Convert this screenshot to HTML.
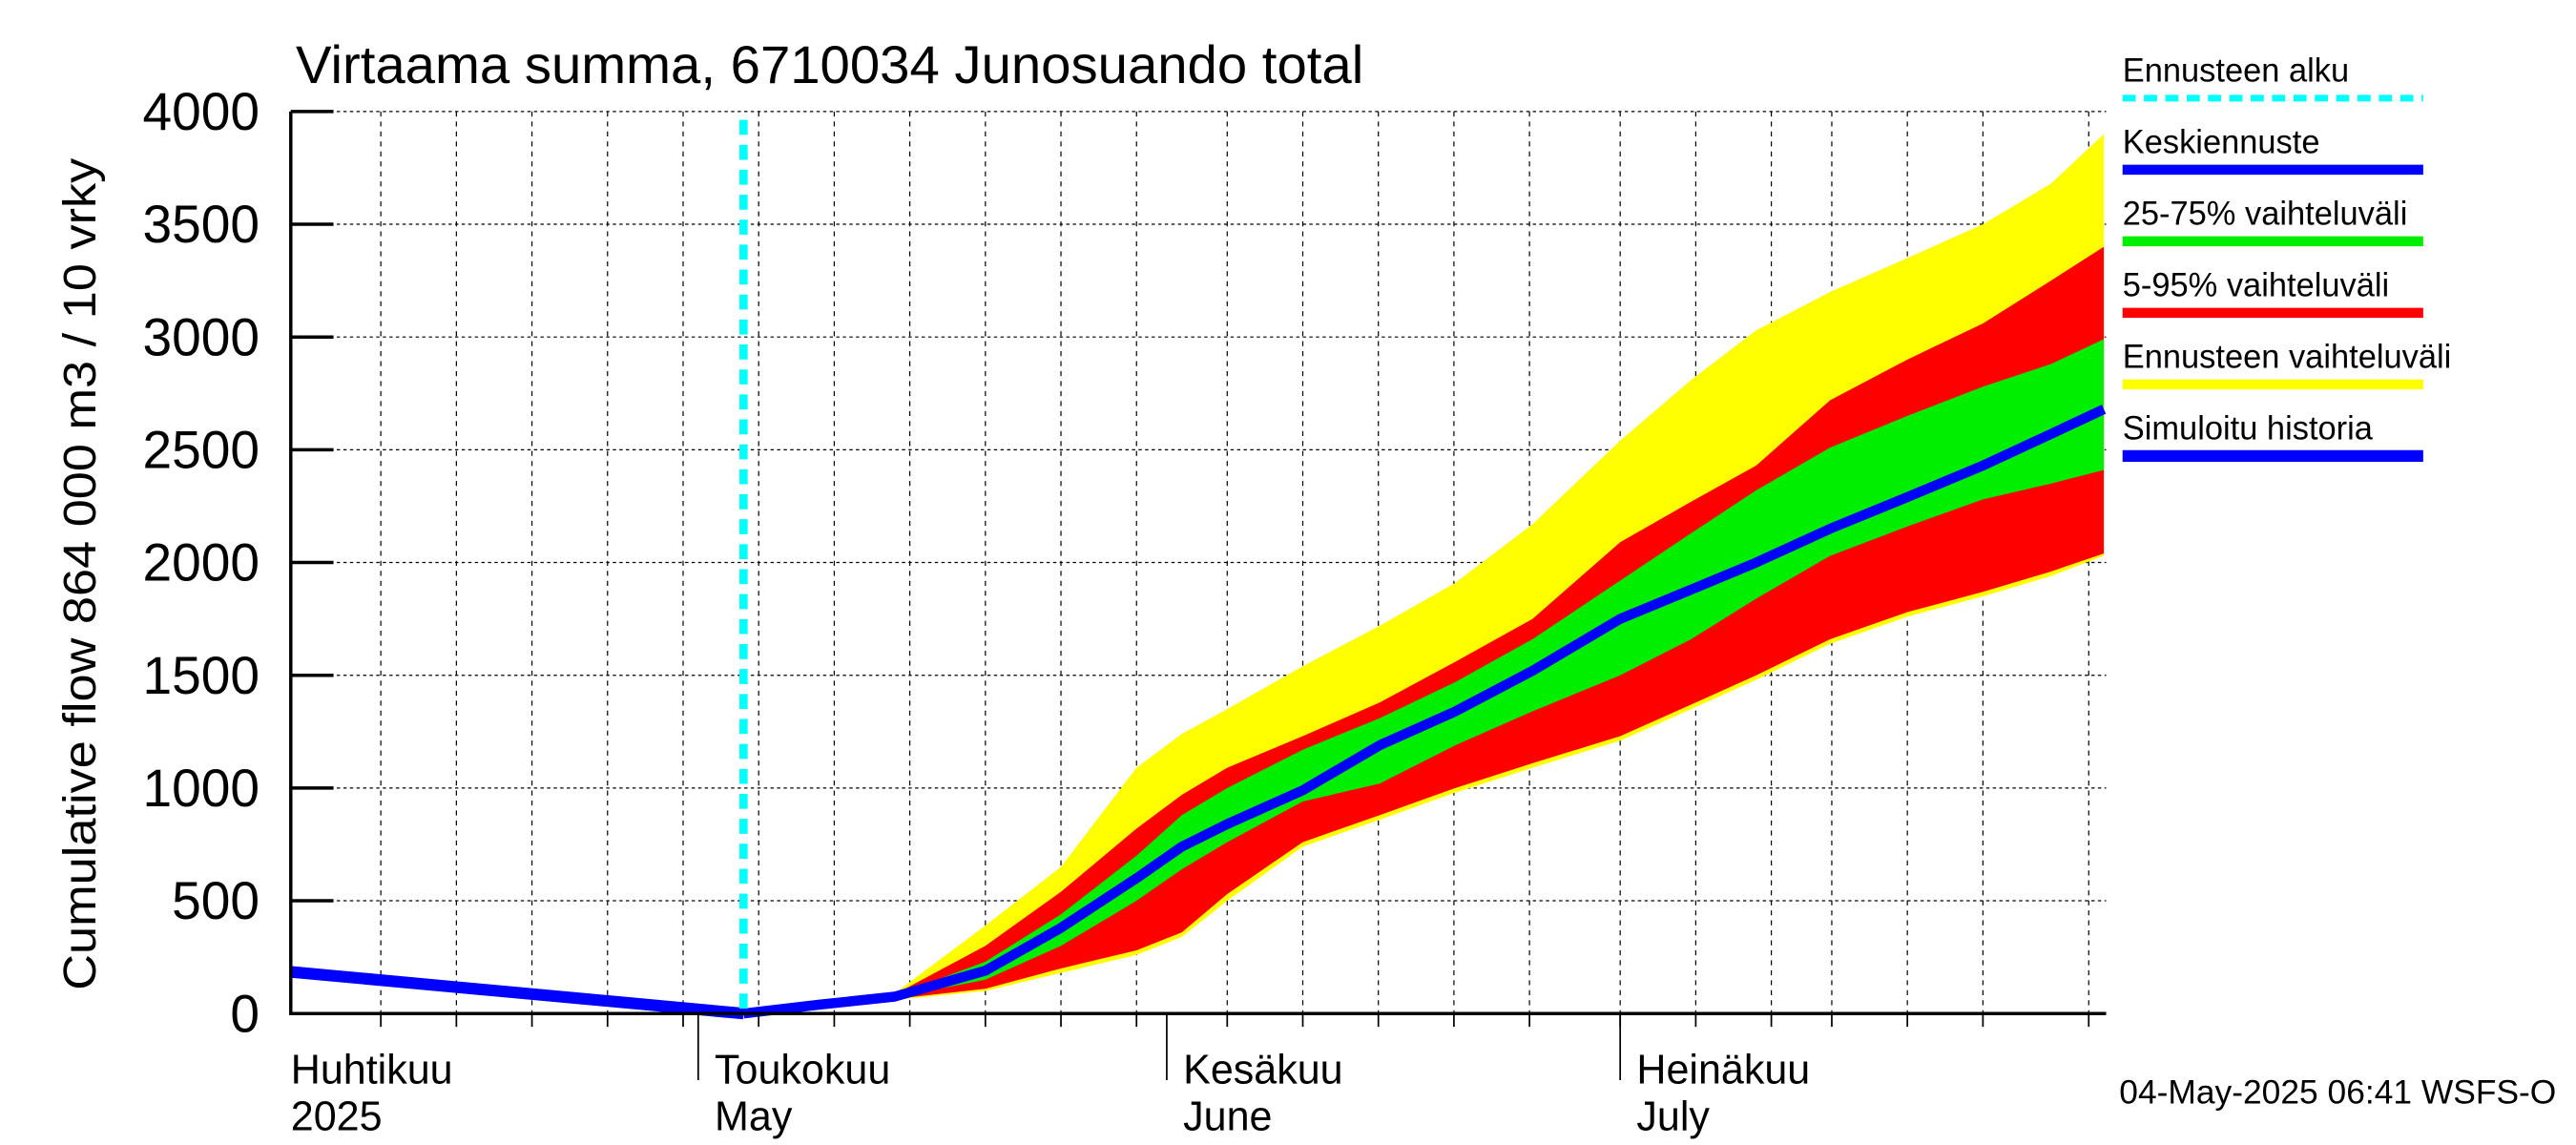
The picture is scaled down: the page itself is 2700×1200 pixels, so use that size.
<!DOCTYPE html>
<html><head><meta charset="utf-8"><style>
html,body{margin:0;padding:0;background:#fff;}
svg{display:block;font-family:"Liberation Sans",sans-serif;}
</style></head><body>
<svg id="chart" width="2700" height="1200" viewBox="0 0 1568 688" preserveAspectRatio="none" xmlns="http://www.w3.org/2000/svg">
<rect x="0" y="0" width="1568" height="688" fill="#fff"/>
<g id="grid"></g>
<g id="bands"></g>
<g id="lines"></g>
<g id="axes"></g>
<text x="180" y="50" font-size="32" textLength="650" lengthAdjust="spacingAndGlyphs">Virtaama summa, 6710034 Junosuando total</text>
<text transform="translate(58,345) rotate(-90)" text-anchor="middle" font-size="28" textLength="500" lengthAdjust="spacingAndGlyphs">Cumulative flow     864 000 m3 / 10 vrky</text>
<text x="1290" y="663" font-size="20" textLength="266" lengthAdjust="spacingAndGlyphs">04-May-2025 06:41 WSFS-O</text>
<g id="legend"></g>
</svg>
<script>
// data (x in days since 1 May 2025, values in 864 000 m3)
const yTicks = [0, 500, 1000, 1500, 2000, 2500, 3000, 3500, 4000];
const monthLabels = [["Huhtikuu","2025"],["Toukokuu","May"],["Kesäkuu","June"],["Heinäkuu","July"]];
const monthStartDays = [-30, 0, 31, 61];
const gridDays = [-21,-16,-11,-6,-1,4,9,14,19,24,29,35,40,45,50,55,61,66,71,75,80,85,92];
const histDays = [-27, 3];
const histVals = [185, 0];
const forecastStartDay = 3;
const fDays = [3, 8.1, 13, 19, 24, 29, 32, 35, 40, 45.1, 50.1, 55.2, 61, 65.7, 70, 74.9, 80, 85, 89.5, 93];
const yMax = [0, 40, 90, 390, 650, 1090, 1240, 1350, 1540, 1720, 1910, 2170, 2540, 2810, 3030, 3200, 3350, 3500, 3680, 3900];
const p95 = [0, 40, 85, 300, 540, 820, 970, 1090, 1230, 1380, 1560, 1750, 2090, 2270, 2430, 2720, 2900, 3060, 3250, 3400];
const p75 = [0, 40, 80, 230, 440, 700, 880, 1000, 1170, 1310, 1470, 1660, 1920, 2130, 2320, 2510, 2650, 2780, 2880, 2990];
const median = [0, 40, 75, 190, 380, 600, 740, 840, 990, 1190, 1340, 1520, 1750, 1880, 2000, 2150, 2290, 2430, 2570, 2680];
const p25 = [0, 40, 70, 150, 300, 500, 640, 760, 940, 1020, 1190, 1340, 1500, 1660, 1840, 2030, 2160, 2280, 2350, 2410];
const p05 = [0, 40, 65, 110, 200, 280, 360, 530, 760, 880, 1000, 1110, 1230, 1370, 1500, 1660, 1780, 1870, 1960, 2040];
const yMin = [0, 38, 60, 100, 180, 260, 340, 500, 740, 860, 980, 1090, 1210, 1350, 1480, 1640, 1760, 1850, 1940, 2030];
const legendLabels = ["Ennusteen alku","Keskiennuste","25-75% vaihteluväli","5-95% vaihteluväli","Ennusteen vaihteluväli","Simuloitu historia"];

const NS="http://www.w3.org/2000/svg";
const L=177,R=1282,T=67,B=609;
const x = d => 425 + d*9.2;
const y = v => B - (v/4000)*(B-T);
function mk(tag, attrs, parent){const e=document.createElementNS(NS,tag);for(const k in attrs)e.setAttribute(k,attrs[k]);parent.appendChild(e);return e;}
const grid=document.getElementById('grid'),bands=document.getElementById('bands'),lines=document.getElementById('lines'),axes=document.getElementById('axes'),legend=document.getElementById('legend');

yTicks.forEach(v=>{
  if(v>0){const g=mk('line',{x1:L,x2:R,y1:y(v),y2:y(v),stroke:'#000','stroke-width':0.7,'stroke-dasharray':'2,2'},grid);
  
  }
  const t=mk('line',{x1:L,x2:L+26,y1:y(v),y2:y(v),stroke:'#000','stroke-width':2},axes);
  
  
  const tx=mk('text',{x:158,y:y(v)+11,'text-anchor':'end','font-size':32},axes);
  tx.textContent=v;
  
  
});
gridDays.forEach(d=>{
  if(x(d)<=L||x(d)>R)return;
  const g=mk('line',{x1:x(d),x2:x(d),y1:T,y2:B,stroke:'#000','stroke-width':0.7,'stroke-dasharray':'3,3'},grid);
  
  
  const t=mk('line',{x1:x(d),x2:x(d),y1:B,y2:B+8,stroke:'#000','stroke-width':1},axes);
  
  
});
monthStartDays.forEach((d,i)=>{
  if(x(d)>L){const t=mk('line',{x1:x(d),x2:x(d),y1:B,y2:B+40,stroke:'#000','stroke-width':1},axes);
  
  }
  const lx=i===0?L:x(d)+10;
  const a=mk('text',{x:lx,y:651,'font-size':25},axes);a.textContent=monthLabels[i][0];
  
  
  const b=mk('text',{x:lx,y:679,'font-size':25},axes);b.textContent=monthLabels[i][1];
  
  
});
function band(lo,hi,color,name){
  let d='M'+fDays.map((dd,i)=>x(dd)+','+y(hi[i])).join('L');
  for(let i=fDays.length-1;i>=0;i--)d+='L'+x(fDays[i])+','+y(lo[i]);
  const p=mk('path',{d:d+'Z',fill:color},bands);
  
  
}
band(yMin,yMax,'#ffff00','forecast-range-band');
band(p05,p95,'#ff0000','p5-p95-band');
band(p25,p75,'#00ee00','p25-p75-band');
const hl=mk('polyline',{points:histDays.map((d,i)=>x(d)+','+y(histVals[i])).join(' '),fill:'none',stroke:'#0000ff','stroke-width':7},lines);


const ml=mk('polyline',{points:fDays.map((d,i)=>x(d)+','+y(median[i])).join(' '),fill:'none',stroke:'#0000ff','stroke-width':6,'stroke-linejoin':'round'},lines);


const fs=mk('line',{x1:x(forecastStartDay),x2:x(forecastStartDay),y1:T+5,y2:B,stroke:'#00ffff','stroke-width':5,'stroke-dasharray':'9,6'},lines);


const ax=mk('path',{d:`M${L},${T}L${L},${B}L${R},${B}`,fill:'none',stroke:'#000','stroke-width':2},axes);


const lcol=['#00ffff','#0000ff','#00ee00','#ff0000','#ffff00','#0000ff'];
legendLabels.forEach((s,i)=>{
  const ty=49+i*43;
  const t=mk('text',{x:1292,y:ty,'font-size':20},legend);t.textContent=s;
  
  
  const attrs={x1:1292,x2:1475,y1:ty+10,y2:ty+10,stroke:lcol[i],'stroke-width':i===0?4:(i===5?7:6)};
  if(i===0)attrs['stroke-dasharray']='8,5';
  const ln=mk('line',attrs,legend);
  
  
});
</script>
</body></html>
